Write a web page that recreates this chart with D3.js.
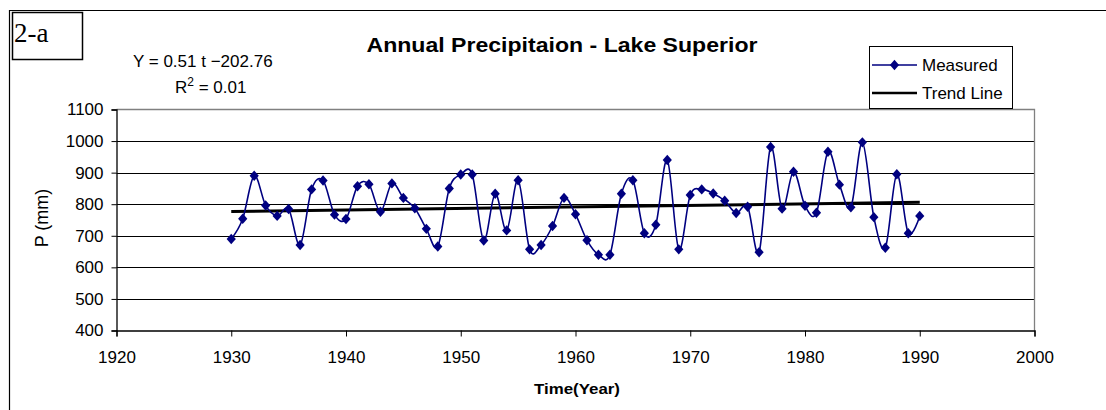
<!DOCTYPE html>
<html><head><meta charset="utf-8">
<script src="https://cdn.jsdelivr.net/npm/d3@7"></script>
<style>body{margin:0;background:#fff}svg{display:block}text{font-family:"Liberation Sans",Arial,sans-serif}</style>
</head><body><svg id="c" width="1106" height="410"></svg>
<script>
const years = d3.range(1930, 1991);
const measured = [690,754,890,796,763,785,671,847,875,767,
753,857,863,776,866,820,787,722,666,850,
894,894,685,833,717,876,657,671,731,820,
768,686,640,640,833,876,708,735,940,657,
829,847,834,811,772,792,648,981,786,903,
795,773,966,862,790,996,759,662,895,708,763];
const trendYears = [1930, 1990];
const trendValues = [777, 806];
const xTicks = [1920,1930,1940,1950,1960,1970,1980,1990,2000];
const yTicks = [400,500,600,700,800,900,1000,1100];

const svg = d3.select("#c");
const x = d3.scaleLinear().domain([1920,2000]).range([116.5,1034.5]);
const y = d3.scaleLinear().domain([400,1100]).range([330.5,109.5]);

// outer frame (left and top)
svg.append("path").attr("d","M9.5,420 L9.5,10.5 L1120,10.5").attr("fill","none").attr("stroke","#000").attr("stroke-width",1.2);
// 2-a box
svg.append("rect").attr("x",12.5).attr("y",12.5).attr("width",70).attr("height",47).attr("fill","#fff").attr("stroke","#000").attr("stroke-width",1.5);
svg.append("text").attr("x",14).attr("y",42).style("font-family","'Liberation Serif','Times New Roman',serif").style("font-size","27px").text("2-a");

// gridlines
svg.append("g").selectAll("line").data(yTicks.filter(v=>v>400 && v<1100)).join("line")
  .attr("x1",x(1920)).attr("x2",x(2000)).attr("y1",d=>Math.round(y(d))+0.5).attr("y2",d=>Math.round(y(d))+0.5)
  .attr("stroke","#000").attr("stroke-width",1);
// plot border top/right gray
svg.append("path").attr("d",`M${x(1920)},${y(1100)} L${x(2000)},${y(1100)} L${x(2000)},${y(400)}`).attr("fill","none").attr("stroke","#808080").attr("stroke-width",1.3);

// axes
const xAxis = d3.axisBottom(x).tickValues(xTicks).tickFormat(d3.format("d")).tickSize(6).tickPadding(14);
const gx = svg.append("g").attr("transform",`translate(0,${y(400)})`).call(xAxis);
gx.select(".domain").attr("stroke","#000").attr("stroke-width",1.3);
gx.selectAll(".tick line").attr("stroke","#000");
gx.selectAll("text").style("font-size","17px").attr("fill","#000").style("font-family","'Liberation Sans',Arial,sans-serif");

const yAxis = d3.axisLeft(y).tickValues(yTicks).tickFormat(d3.format("d")).tickSize(5).tickPadding(8);
const gy = svg.append("g").attr("transform",`translate(${x(1920)},0)`).call(yAxis);
gy.select(".domain").attr("stroke","#000").attr("stroke-width",1.3);
gy.selectAll(".tick line").attr("stroke","#000");
gy.selectAll("text").style("font-size","17px").attr("fill","#000").style("font-family","'Liberation Sans',Arial,sans-serif");

// trend line
svg.append("line").attr("x1",x(trendYears[0])).attr("x2",x(trendYears[1]))
  .attr("y1",y(trendValues[0])).attr("y2",y(trendValues[1])).attr("stroke","#000").attr("stroke-width",3);

// measured line
const pts = years.map((yr,i)=>[yr,measured[i]]);
const line = d3.line().x(d=>x(d[0])).y(d=>y(d[1])).curve(d3.curveCardinal.tension(0));
svg.append("path").datum(pts).attr("d",line).attr("fill","none").attr("stroke","#000080").attr("stroke-width",1.6);
const diamond = "M0,-5.2L4.6,0L0,5.2L-4.6,0Z";
svg.append("g").selectAll("path").data(pts).join("path")
  .attr("transform",d=>`translate(${x(d[0])},${y(d[1])})`).attr("d",diamond).attr("fill","#000080");

// title
svg.append("text").attr("x",562).attr("y",52).attr("text-anchor","middle")
  .style("font-size","20px").style("font-weight","bold").attr("textLength",391).attr("lengthAdjust","spacingAndGlyphs")
  .text("Annual Precipitaion - Lake Superior");
// equation
svg.append("text").attr("x",133).attr("y",67).style("font-size","17px").text("Y = 0.51 t \u2212202.76");
const r = svg.append("text").attr("x",175).attr("y",93).style("font-size","17px");
r.append("tspan").text("R");
r.append("tspan").attr("dy",-7).style("font-size","12px").text("2");
r.append("tspan").attr("dy",7).text(" = 0.01");

// axis titles
svg.append("text").attr("x",577).attr("y",394).attr("text-anchor","middle").style("font-size","15px").style("font-weight","bold")
  .attr("textLength",86).attr("lengthAdjust","spacingAndGlyphs").text("Time(Year)");
svg.append("text").attr("transform","translate(48,218) rotate(-90)").attr("text-anchor","middle").style("font-size","18px").text("P (mm)");

// legend
const lg = svg.append("g");
lg.append("rect").attr("x",869.5).attr("y",46.5).attr("width",143).attr("height",62).attr("fill","#fff").attr("stroke","#000").attr("stroke-width",1);
lg.append("line").attr("x1",872).attr("x2",917).attr("y1",65).attr("y2",65).attr("stroke","#000080").attr("stroke-width",1.5);
lg.append("path").attr("transform","translate(894.5,65)").attr("d",diamond).attr("fill","#000080");
lg.append("text").attr("x",922).attr("y",71).style("font-size","17px").text("Measured");
lg.append("line").attr("x1",872).attr("x2",917).attr("y1",93).attr("y2",93).attr("stroke","#000").attr("stroke-width",2.5);
lg.append("text").attr("x",922).attr("y",99).style("font-size","17px").text("Trend Line");
</script></body></html>
